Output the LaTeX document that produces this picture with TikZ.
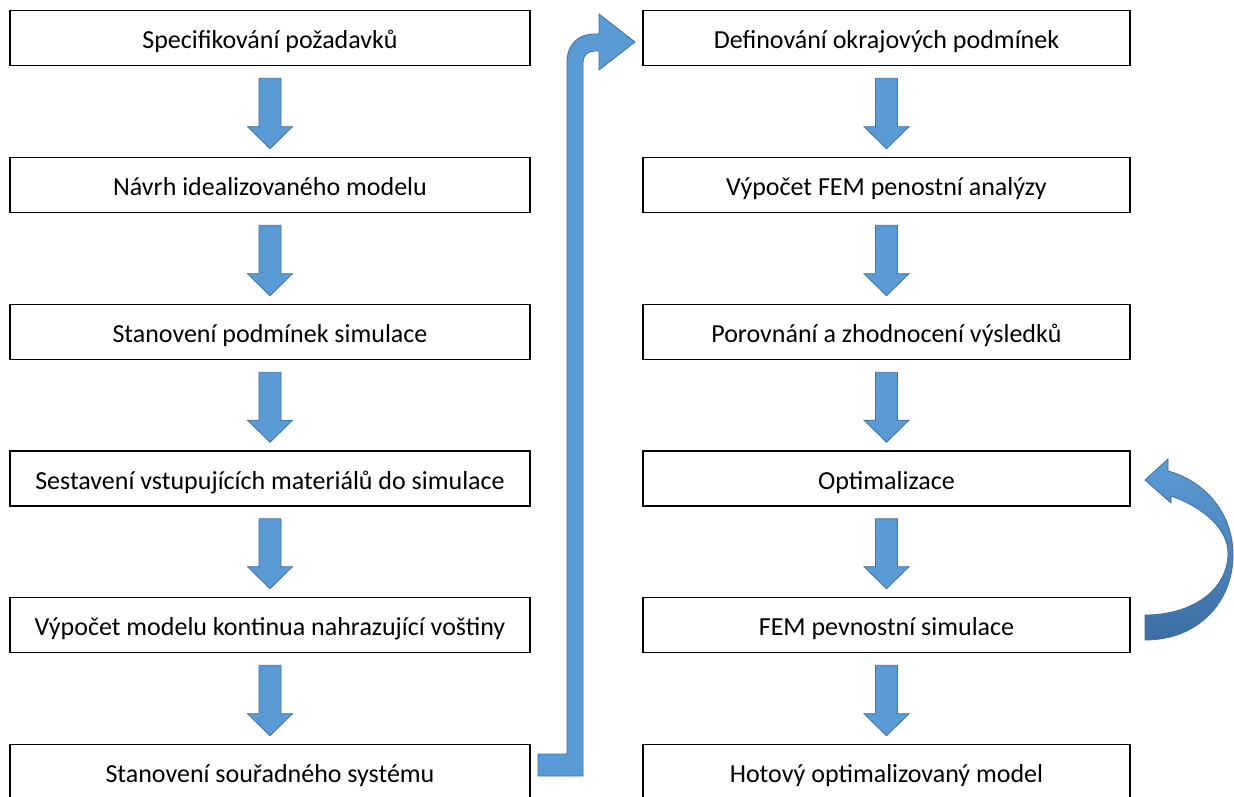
\documentclass[tikz,border=0pt]{standalone}
\usepackage{fontspec}
\setmainfont{Carlito}
\usetikzlibrary{calc}
\definecolor{ablue}{HTML}{5B9BD5}
\definecolor{aedge}{HTML}{41719C}
\definecolor{adark}{HTML}{3C6EA3}
\newcommand\dnarrow[2]{\draw[barrow] ($(#1.south)+(-11,12)$) -- ($(#1.south)+(11,12)$) -- ($(#2.north)+(11,-30)$) -- ($(#2.north)+(22.5,-30)$) -- ($(#2.north)+(0,-8)$) -- ($(#2.north)+(-22.5,-30)$) -- ($(#2.north)+(-11,-30)$) -- cycle;}
\begin{document}
\begin{tikzpicture}[x=1pt,y=-1pt,
  box/.style={draw=black,line width=1.6pt,rectangle,minimum height=55pt,inner sep=0pt,text height=21.6pt,text depth=0pt,font=\fontsize{26}{30}\selectfont},
  lbox/.style={box,minimum width=520pt},
  rbox/.style={box,minimum width=487pt},
  barrow/.style={fill=ablue,draw=aedge,line width=0.8pt,line join=miter}]
\useasboundingbox (0,0) rectangle (1234,796);
\clip (0,0) rectangle (1234,796);
\fill[white] (0,0) rectangle (1234,796);
% left column
\node[lbox] (l1) at (270,38) {Specifikování požadavků};
\node[lbox] (l2) at (270,185) {Návrh idealizovaného modelu};
\node[lbox] (l3) at (270,332) {Stanovení podmínek simulace};
\node[lbox] (l4) at (270,478.5) {Sestavení vstupujících materiálů do simulace};
\node[lbox] (l5) at (270,625) {Výpočet modelu kontinua nahrazující voštiny};
\node[lbox] (l6) at (270,772) {Stanovení souřadného systému};
% right column
\node[rbox] (r1) at (886.5,38) {Definování okrajových podmínek};
\node[rbox] (r2) at (886.5,185) {Výpočet FEM penostní analýzy};
\node[rbox] (r3) at (886.5,332) {Porovnání a zhodnocení výsledků};
\node[rbox] (r4) at (886.5,478.5) {Optimalizace};
\node[rbox] (r5) at (886.5,625) {FEM pevnostní simulace};
\node[rbox] (r6) at (886.5,772) {Hotový optimalizovaný model};
% down arrows
\dnarrow{l1}{l2}
\dnarrow{l2}{l3}
\dnarrow{l3}{l4}
\dnarrow{l4}{l5}
\dnarrow{l5}{l6}
\dnarrow{r1}{r2}
\dnarrow{r2}{r3}
\dnarrow{r3}{r4}
\dnarrow{r4}{r5}
\dnarrow{r5}{r6}
% bent arrow from l6 to r1
\draw[barrow] (538,776) -- (583,776) -- (583,62) .. controls (583,55) and (588,51) .. (595,51) -- (599,51) -- (599,70) -- (635,42) -- (599,14) -- (599,34) -- (594,34) .. controls (578,34) and (567,45) .. (567,62) -- (567,754) -- (538,754) -- cycle;
% curved arrow from r5 back to r4
\shade[top color=ablue,bottom color=adark,draw=aedge,line width=0.8pt] (1145,640) .. controls (1200,640) and (1234,600) .. (1233,553) .. controls (1232,510) and (1202,480) .. (1168,471) -- (1168,459) -- (1145,480) -- (1171,503) -- (1171,496) .. controls (1205,508) and (1228,530) .. (1228,553) .. controls (1228,590) and (1192,615) .. (1145,615) -- cycle;
\end{tikzpicture}
\end{document}
